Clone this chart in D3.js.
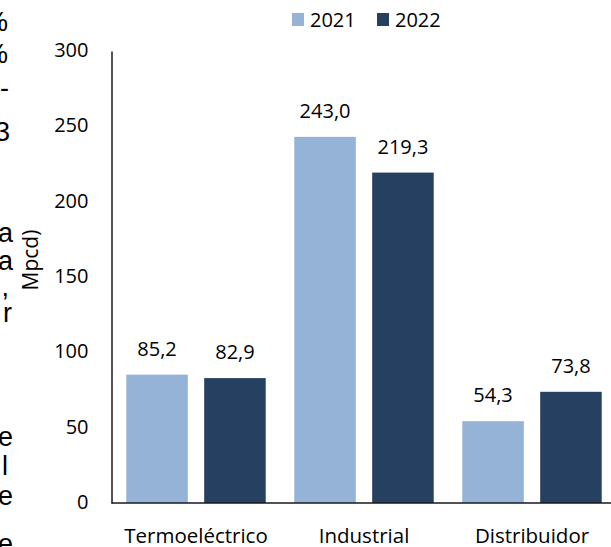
<!DOCTYPE html>
<html>
<head>
<meta charset="utf-8">
<script src="https://cdn.jsdelivr.net/npm/d3@7"></script>
<style>
  html, body { margin: 0; padding: 0; background: #fff; }
  svg { display: block; }
  text { font-family: "Open Sans", sans-serif; fill: #000; }
</style>
</head>
<body>
<svg id="chart" width="611" height="547"></svg>
<script>
// ---- data ----
const categories = ["Termoeléctrico", "Industrial", "Distribuidor"];
const seriesNames = ["2021", "2022"];
const values2021 = [85.2, 243.0, 54.3];
const values2022 = [82.9, 219.3, 73.8];
const yTicks = [0, 50, 100, 150, 200, 250, 300];
const yTitle = "Mpcd)";
// fragments of surrounding document text visible at the left edge
const sideGlyphs = ["%", "%", "-", "3", "a", "a", ",", "r", "e", "l", "e", "e"];
const sideGlyphRows = [31, 63, 97, 141, 242, 270, 296, 322, 446, 475, 505, 553];
const sideGlyphEnds = [8, 8, 9, 10, 13, 13, 9, 12, 13, 8, 13, 13];

const colors = { "2021": "#95b3d7", "2022": "#254061" };

const svg = d3.select("#chart");

// side glyphs (clipped paragraph text)
svg.append("g").selectAll("text").data(sideGlyphs).join("text")
  .attr("x", (d, i) => sideGlyphEnds[i])
  .attr("y", (d, i) => sideGlyphRows[i])
  .attr("text-anchor", "end")
  .style("font-family", "'Liberation Sans', Arial, sans-serif")
  .style("font-size", "27px")
  .text(d => d);

// scales
const y = d3.scaleLinear().domain([0, 300]).range([503, 51]);
const x0 = d3.scaleBand().domain(categories).range([112, 616])
  .paddingInner(0.17).paddingOuter(0.085);
const x1 = d3.scaleBand().domain(seriesNames).range([0, x0.bandwidth()])
  .paddingInner(0.21);

const rows = categories.map((c, i) => ({
  cat: c,
  vals: [{ s: "2021", v: values2021[i] }, { s: "2022", v: values2022[i] }]
}));

// bars
const groups = svg.append("g").selectAll("g").data(rows).join("g")
  .attr("transform", d => `translate(${x0(d.cat)},0)`);

groups.selectAll("rect").data(d => d.vals).join("rect")
  .attr("x", d => x1(d.s))
  .attr("y", d => y(d.v))
  .attr("width", x1.bandwidth())
  .attr("height", d => y(0) - y(d.v))
  .attr("fill", d => colors[d.s]);

groups.selectAll("text.val").data(d => d.vals).join("text")
  .attr("class", "val")
  .attr("x", d => x1(d.s) + x1.bandwidth() / 2)
  .attr("y", d => y(d.v) - 19)
  .attr("text-anchor", "middle")
  .style("font-size", "20px")
  .text(d => d.v.toFixed(1).replace(".", ","));

// y axis
const yAxis = svg.append("g").attr("transform", "translate(111.5,0)")
  .call(d3.axisLeft(y).tickValues(yTicks).tickSize(0).tickPadding(23)
    .tickFormat(d3.format("d")));
yAxis.select(".domain").attr("stroke", "#1a1a1a").attr("stroke-width", 1.5);
yAxis.selectAll("text").style("font-size", "20px").attr("dy", "0.27em")
  .style("font-family", "'Open Sans', sans-serif").attr("fill", "#000");

// x axis
const xAxis = svg.append("g").attr("transform", "translate(0,503)")
  .call(d3.axisBottom(x0).tickSize(0).tickPadding(25));
xAxis.select(".domain").attr("stroke", "#1a1a1a").attr("stroke-width", 1.5)
  .attr("d", "M111.5,0H616");
xAxis.selectAll("text").style("font-size", "20.5px")
  .style("font-family", "'Open Sans', sans-serif").attr("fill", "#000");

// y title
svg.append("text")
  .attr("transform", "translate(38,260) rotate(-90)")
  .attr("text-anchor", "middle")
  .style("font-size", "21px")
  .text(yTitle);

// legend
const legendX = [292, 377];
const legend = svg.append("g").selectAll("g").data(seriesNames).join("g")
  .attr("transform", (d, i) => `translate(${legendX[i]},13)`);
legend.append("rect").attr("width", 12).attr("height", 13)
  .attr("fill", d => colors[d]);
legend.append("text").attr("x", 18).attr("y", 13.5)
  .style("font-size", "20px").text(d => d);
</script>
</body>
</html>
